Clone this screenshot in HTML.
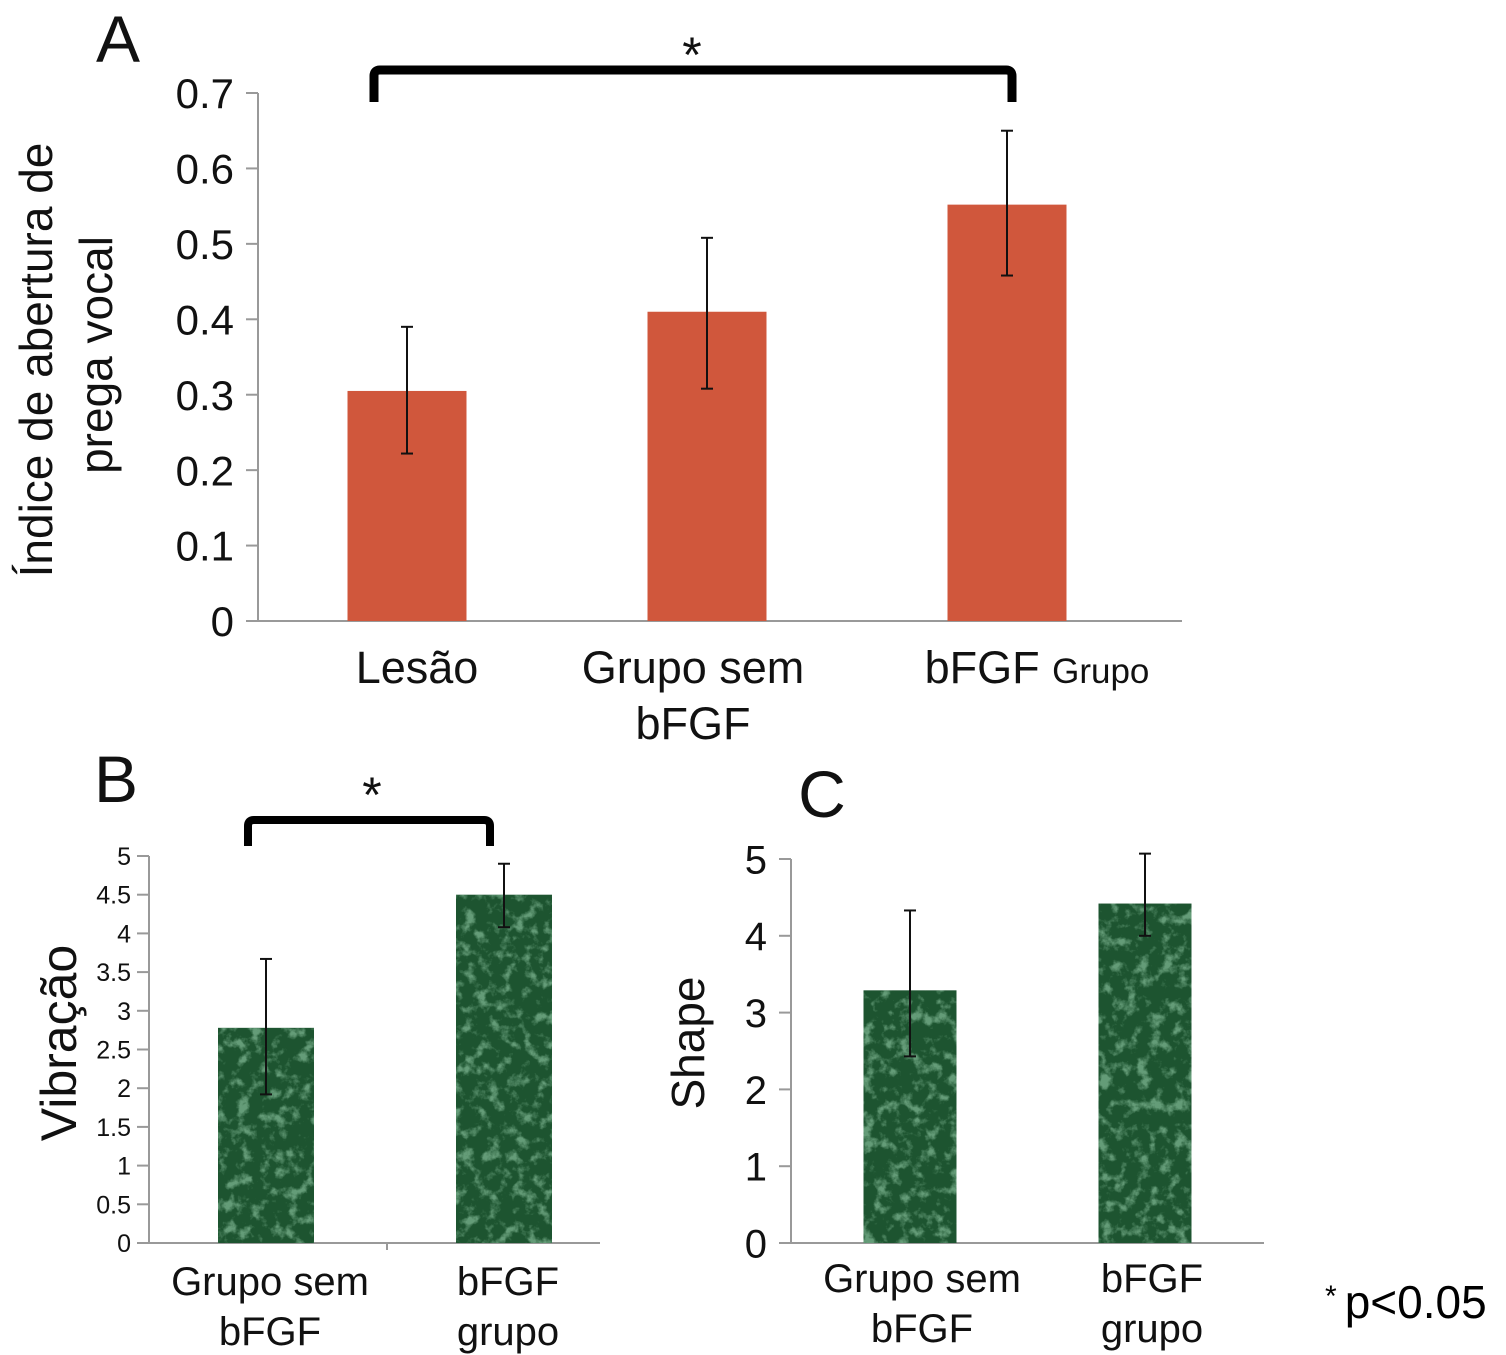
<!DOCTYPE html>
<html><head><meta charset="utf-8"><style>
body{margin:0;background:#fff}
svg{display:block;font-family:"Liberation Sans",Arial,sans-serif}
</style></head><body>
<svg id="chart" width="1506" height="1355" viewBox="0 0 1506 1355">
<defs>
<filter id="marble" x="0" y="0" width="100%" height="100%">
<feTurbulence type="fractalNoise" baseFrequency="0.08" numOctaves="4" seed="3" result="n"/>
<feColorMatrix in="n" type="matrix" values="0 0 0 0 0.35  0 0 0 0 0.68  0 0 0 0 0.45  0 0 0 4 -2.0" result="c"/>
<feComposite in="c" in2="SourceGraphic" operator="in"/>
</filter>
</defs>
<g id="gA"></g>
<g id="gB"></g>
<g id="gC"></g>
<text x="1325" y="1318" font-size="46"><tspan font-size="30" dy="-12">*</tspan><tspan dy="12" dx="8">p&lt;0.05</tspan></text>
</svg>
<script>
const NS='http://www.w3.org/2000/svg';
const aCats=['Lesão','Grupo sem|bFGF','bFGF'];
const aVals=[0.305,0.41,0.552];
const aHi=[0.39,0.508,0.65];
const aLo=[0.222,0.308,0.458];
const aTicks=[0,0.1,0.2,0.3,0.4,0.5,0.6,0.7];
const bCats=['Grupo sem|bFGF','bFGF|grupo'];
const bVals=[2.78,4.5];
const bHi=[3.67,4.9];
const bLo=[1.92,4.08];
const bTicks=[0,0.5,1,1.5,2,2.5,3,3.5,4,4.5,5];
const cCats=['Grupo sem|bFGF','bFGF|grupo'];
const cVals=[3.29,4.42];
const cHi=[4.33,5.07];
const cLo=[2.43,4.0];
const cTicks=[0,1,2,3,4,5];

function el(p,t,a){const e=document.createElementNS(NS,t);for(const k in a)e.setAttribute(k,a[k]);p.appendChild(e);return e;}
function txt(p,x,y,s,size,anchor,extra){const e=el(p,'text',Object.assign({x:x,y:y,'font-size':size,'text-anchor':anchor||'middle',fill:'#111'},extra||{}));e.textContent=s;return e;}

function panel(g,o){
  const y=v=>o.y0-(v-o.vmin)/(o.vmax-o.vmin)*(o.y0-o.y1);
  const ax=el(g,'line',{x1:o.ax,y1:y(o.vmax),x2:o.ax,y2:o.y0,stroke:'#999','stroke-width':2});
  
  
  const xa=el(g,'line',{x1:o.ax-12,y1:o.y0,x2:o.xEnd,y2:o.y0,stroke:'#999','stroke-width':2});
  
  
  o.ticks.forEach(t=>{
    el(g,'line',{x1:o.ax-12,y1:y(t),x2:o.ax,y2:y(t),stroke:'#999','stroke-width':2});
    const lb=txt(g,o.ax-o.tickGap,y(t)+o.tickSize*0.36,String(t),o.tickSize,'end');
    
    
  });
  o.cats.forEach((c,i)=>{
    const cx=o.centers[i];
    const r=el(g,'rect',{x:cx-o.bw/2,y:y(o.vals[i]),width:o.bw,height:o.y0-y(o.vals[i]),fill:o.fill});
    
    
    if(o.marble){el(g,'rect',{x:cx-o.bw/2,y:y(o.vals[i]),width:o.bw,height:o.y0-y(o.vals[i]),fill:'#fff',filter:'url(#marble)',opacity:0.55});}
    const eb=el(g,'g',{stroke:'#111','stroke-width':2});
    
    
    el(eb,'line',{x1:cx,y1:y(o.hi[i]),x2:cx,y2:y(o.lo[i])});
    el(eb,'line',{x1:cx-6,y1:y(o.hi[i]),x2:cx+6,y2:y(o.hi[i])});
    el(eb,'line',{x1:cx-6,y1:y(o.lo[i]),x2:cx+6,y2:y(o.lo[i])});
    c.split('|').forEach((ln,j)=>{
      const lt=txt(g,o.labelX?o.labelX[i]:cx,o.labelY+j*o.lineH,ln,o.labelSize);
      
      
    });
  });
  return y;
}
function bracket(g,x1,x2,top,bot,w){
  const p=el(g,'path',{d:`M${x1},${bot} L${x1},${top+6} Q${x1},${top} ${x1+6},${top} L${x2-6},${top} Q${x2},${top} ${x2},${top+6} L${x2},${bot}`,fill:'none',stroke:'#000','stroke-width':w});
  
  
}
const gA=document.getElementById('gA'),gB=document.getElementById('gB'),gC=document.getElementById('gC');
panel(gA,{cats:aCats,vals:aVals,hi:aHi,lo:aLo,ticks:aTicks,vmin:0,vmax:0.7,y0:621,y1:93,ax:258,xEnd:1182,centers:[407,707,1007],bw:119,fill:'#d0573c',tickGap:24,tickSize:42,labelY:683,lineH:56,labelSize:45,labelX:[417,693,1000]});
const la=txt(gA,1037,683,'',45);la.innerHTML='bFGF <tspan font-size="35">Grupo</tspan>';
gA.querySelectorAll('text').forEach(t=>{if(t.textContent==='bFGF'&&t.getAttribute('y')==='683')t.remove();});


let t=txt(gA,118,62,'A',66);
t=txt(gA,0,0,'Índice de abertura de',46,'middle',{transform:'translate(52,360) rotate(-90)'});
txt(gA,0,0,'prega vocal',46,'middle',{transform:'translate(112,355) rotate(-90)'});
bracket(gA,374,1012,70,102,9);
t=txt(gA,692,72,'*',50);

panel(gB,{cats:bCats,vals:bVals,hi:bHi,lo:bLo,ticks:bTicks,vmin:0,vmax:5,y0:1243,y1:856,ax:149,xEnd:600,centers:[266,504],bw:96,fill:'#1d5430',marble:true,tickGap:18,tickSize:25,labelY:1295,lineH:50,labelSize:40,labelX:[270,508]});
el(gB,'line',{x1:387,y1:1243,x2:387,y2:1250,stroke:'#999','stroke-width':2});
t=txt(gB,116,802,'B',66);
t=txt(gB,0,0,'Vibração',50,'middle',{transform:'translate(76,1043) rotate(-90)'});
bracket(gB,248,490,820,846,8);
txt(gB,372,812,'*',50);

panel(gC,{cats:cCats,vals:cVals,hi:cHi,lo:cLo,ticks:cTicks,vmin:0,vmax:5,y0:1243,y1:859,ax:791,xEnd:1264,centers:[910,1145],bw:93,fill:'#1d5430',marble:true,tickGap:24,tickSize:40,labelY:1292,lineH:50,labelSize:40,labelX:[922,1152]});
t=txt(gC,822,817,'C',66);
t=txt(gC,0,0,'Shape',46,'middle',{transform:'translate(704,1043) rotate(-90)'});
</script>
</body></html>
